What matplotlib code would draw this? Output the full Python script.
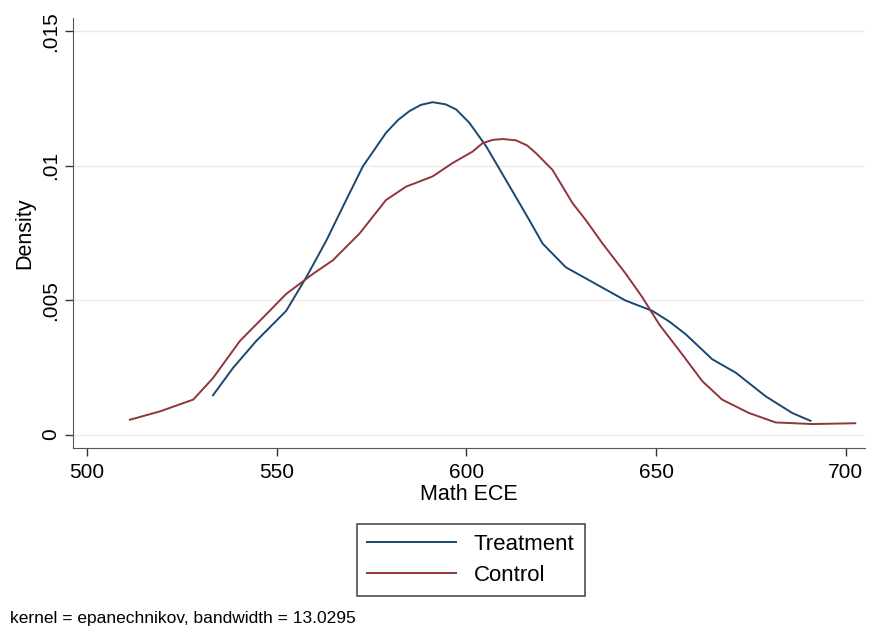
import matplotlib.pyplot as plt

plt.rcParams['font.family'] = ['Liberation Sans', 'DejaVu Sans']

treat_x = [533.2, 538.5, 544.6, 552.5, 557.8, 563.1, 568.3, 572.7, 578.8, 582.0, 585.0, 588.0,
           591.1, 594.5, 597.3, 600.8, 605.2, 610.4, 616.6, 620.1, 626.2, 634.1, 642.0, 649.0,
           653.5, 657.8, 664.8, 671.0, 678.9, 685.9, 690.7]
treat_y = [0.00146, 0.00248, 0.00348, 0.00460, 0.00585, 0.00722, 0.00872, 0.00997, 0.01122,
           0.01170, 0.01203, 0.01226, 0.01236, 0.01228, 0.01209, 0.01159, 0.01072, 0.00947,
           0.00797, 0.00710, 0.00622, 0.00560, 0.00498, 0.00460, 0.00420, 0.00373, 0.00280,
           0.00230, 0.00142, 0.00080, 0.00051]

ctrl_x = [511.3, 519.2, 528.0, 533.2, 540.3, 547.3, 552.5, 559.6, 564.8, 571.8, 578.8,
          584.1, 591.1, 596.4, 601.7, 604.3, 607.0, 609.6, 613.1, 616.0, 618.3, 622.7, 628.0,
          631.5, 635.9, 642.0, 646.4, 650.8, 656.9, 662.2, 667.4, 674.5, 681.5, 691.2, 702.5]
ctrl_y = [0.00055, 0.00086, 0.00130, 0.00210, 0.00348, 0.00448, 0.00523, 0.00598, 0.00648,
          0.00747, 0.00872, 0.00922, 0.00960, 0.01010, 0.01053, 0.01084, 0.01096, 0.01099,
          0.01094, 0.01075, 0.01047, 0.00984, 0.00860, 0.00797, 0.00710, 0.00598, 0.00510,
          0.00410, 0.00298, 0.00198, 0.00130, 0.00080, 0.00045, 0.00039, 0.00042]

xticks = [500, 550, 600, 650, 700]
yticks = [0, 0.005, 0.01, 0.015]
ylabels = ['0', '.005', '.01', '.015']

fig = plt.figure(figsize=(8.72, 6.34), dpi=100)
ax = fig.add_axes([0.0837, 0.2934, 0.908, 0.6786])

ax.plot(treat_x, treat_y, color='#1a476f', lw=1.4, label='Treatment')
ax.plot(ctrl_x, ctrl_y, color='#90353b', lw=1.4, label='Control')

ax.set_xlim(496.3, 705)
ax.set_ylim(-0.0005, 0.0155)
ax.set_xticks(xticks)
ax.set_yticks(yticks)
ax.set_yticklabels(ylabels, rotation=90, va='center')
ax.tick_params(labelsize=15, length=6, width=1, color='#333333')
ax.tick_params(axis='x', pad=5)
ax.grid(axis='y', color='#eaeaea', lw=1)
ax.set_axisbelow(True)

ax.spines['top'].set_visible(False)
ax.spines['right'].set_visible(False)
ax.spines['left'].set_color('#555555')
ax.spines['bottom'].set_color('#555555')

ax.set_xlabel('Math ECE', fontsize=15.5, labelpad=1)
ax.set_ylabel('Density', fontsize=15.5, labelpad=4)

leg = fig.legend(loc='center', bbox_to_anchor=(0.54, 0.1165), fontsize=16,
                 frameon=True, fancybox=False, handlelength=4, borderpad=0.45,
                 labelspacing=0.45, handletextpad=0.8, borderaxespad=0)
leg.get_frame().set_edgecolor('#222222')
leg.get_frame().set_linewidth(1.2)

fig.text(0.011, 0.017, 'kernel = epanechnikov, bandwidth = 13.0295', fontsize=12.5)

plt.savefig('out.png')
plt.close()
